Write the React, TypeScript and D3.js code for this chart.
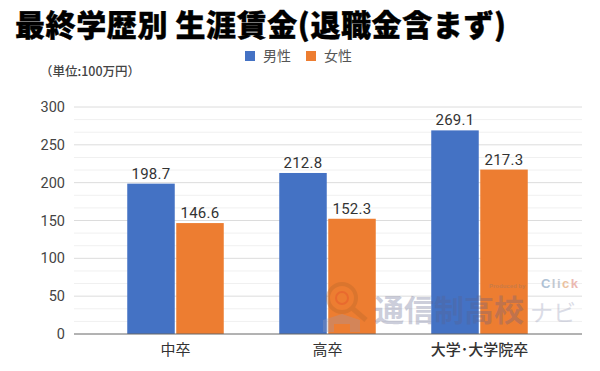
import React from "react";
import * as d3 from "d3";

const categories = ["中卒", "高卒", "大学･大学院卒"];
const male = [198.7, 212.8, 269.1];
const female = [146.6, 152.3, 217.3];
const majorTicks = [0, 50, 100, 150, 200, 250, 300];
const minorStep = 50 / 3;
const clickLetters = ["C", "l", "i", "c", "k"];
const clickColors = ["#9db4cc", "#b5bcc8", "#b5bcc8", "#e8b48a", "#e8a8a0"];

const JP = '"Noto Sans CJK JP", "Noto Sans", sans-serif';
const NUM = 'Roboto, "Liberation Sans", Arial, sans-serif';
const BLUE = "#4472c4";
const ORANGE = "#ed7d31";

export default function App() {
  const y = d3.scaleLinear().domain([0, 300]).range([334, 107]);
  const x = d3.scaleBand<string>().domain(categories).range([99.5, 555.5]);
  const bw = 47.5;
  const gap = 1.5;
  const minors = d3.range(0, 300.01, minorStep).filter((_, i) => i % 3 !== 0);
  const cx = (c: string) => x(c)! + x.bandwidth() / 2;
  return (
    <svg width={600} height={371} style={{ position: "fixed", left: 0, top: 0, background: "#fff" }}>
      <text x={15} y={36} fontFamily={JP} fontSize={30} fontWeight={900} fill="#000" stroke="#000" strokeWidth={0.4} textLength={491} lengthAdjust="spacing">最終学歴別 生涯賃金(退職金含まず)</text>

      <rect x={245} y={51} width={10} height={10} fill={BLUE} />
      <text x={263} y={61} fontFamily={JP} fontSize={14} fill="#555">男性</text>
      <rect x={306} y={51} width={10} height={10} fill={ORANGE} />
      <text x={324} y={61} fontFamily={JP} fontSize={14} fill="#555">女性</text>

      <text x={40} y={76} fontFamily={JP} fontSize={12.5} fontWeight={500} fill="#444" textLength={100}>（単位:100万円）</text>

      {minors.map((t) => (
        <line key={t} x1={74} x2={582} y1={y(t)} y2={y(t)} stroke="#f0f0f0" strokeWidth={1} />
      ))}
      {majorTicks.slice(1).map((t) => (
        <line key={t} x1={74} x2={582} y1={y(t)} y2={y(t)} stroke="#dcdcdc" strokeWidth={1} />
      ))}
      {majorTicks.map((t) => (
        <text key={t} x={65} y={y(t) + 5} textAnchor="end" fontFamily={NUM} fontSize={14.5} fill="#444">{t}</text>
      ))}

      {categories.map((c, i) => (
        <g key={c}>
          <rect x={cx(c) - gap / 2 - bw} y={y(male[i])} width={bw} height={y(0) - y(male[i])} fill={BLUE} />
          <rect x={cx(c) + gap / 2} y={y(female[i])} width={bw} height={y(0) - y(female[i])} fill={ORANGE} />
          <text x={cx(c) - gap / 2 - bw / 2} y={y(male[i]) - 5} textAnchor="middle" fontFamily={NUM} fontSize={15} letterSpacing={0.3} fill="#333">{male[i].toFixed(1)}</text>
          <text x={cx(c) + gap / 2 + bw / 2} y={y(female[i]) - 5} textAnchor="middle" fontFamily={NUM} fontSize={15} letterSpacing={0.3} fill="#333">{female[i].toFixed(1)}</text>
          <text x={cx(c)} y={355} textAnchor="middle" fontFamily={JP} fontSize={15} fontWeight={i === 2 ? 500 : 400} fill="#333">{c}</text>
        </g>
      ))}
      <line x1={74} x2={582} y1={334} y2={334} stroke="#666" strokeWidth={1} />

      <g opacity={0.3}>
        <text x={374} y={321} fontFamily={JP} fontSize={30} fontWeight={700} fill="#5a5f8a">通信制高校</text>
        <text x={530} y={321} fontFamily={JP} fontSize={23} fill="#8a8fb0">ナビ</text>
        <circle cx={342} cy={298} r={14} fill="none" stroke="#b0642a" strokeWidth={4} />
        <line x1={352} y1={308} x2={366} y2={320} stroke="#b0642a" strokeWidth={5} />
        <circle cx={342} cy={298} r={6} fill="none" stroke="#e0402a" strokeWidth={2} />
        <path d="M323 332 V320 L342 314 L360 320 V332 H350 V324 H334 V332 Z" fill="#9a9ab5" />
        <text x={489} y={288} fontFamily={'"Liberation Sans", sans-serif'} fontSize={6} fontWeight={700} fill="#777">Produced by</text>
      </g>
      <text x={541} y={288} fontFamily={'"Liberation Sans", sans-serif'} fontSize={13} fontWeight={700} textLength={37} opacity={0.8}>
        {clickLetters.map((l, i) => (
          <tspan key={i} fill={clickColors[i]}>{l}</tspan>
        ))}
      </text>
    </svg>
  );
}
